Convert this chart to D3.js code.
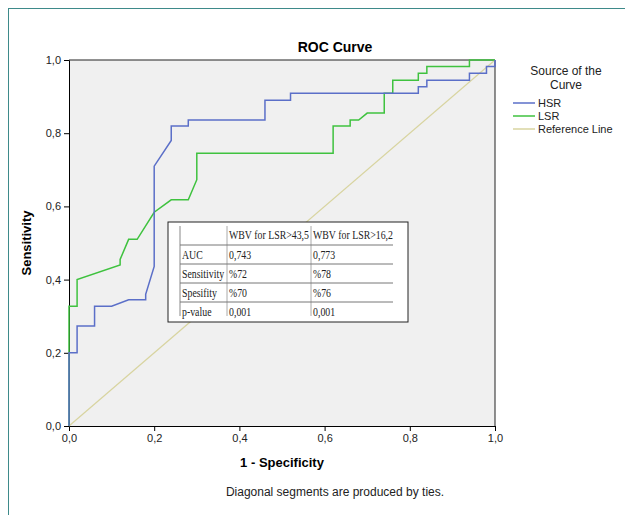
<!DOCTYPE html>
<html><head><meta charset="utf-8">
<script src="https://cdn.jsdelivr.net/npm/d3@7"></script>
<style>
body{margin:0;background:#fff;font-family:Arial,"Liberation Sans",sans-serif;}
</style></head>
<body><div id="chart"></div>
<script>
// ROC points [1-specificity, sensitivity]
let hsr = [[0,0],[0,0.2],[0.019,0.2],[0.019,0.273],[0.06,0.273],[0.06,0.327],[0.10,0.327],[0.14,0.345],[0.18,0.345],[0.18,0.36],[0.2,0.436],[0.2,0.71],[0.24,0.78],[0.24,0.82],[0.28,0.82],[0.28,0.836],[0.46,0.836],[0.46,0.89],[0.52,0.89],[0.52,0.909],[0.82,0.909],[0.82,0.927],[0.84,0.927],[0.84,0.945],[0.94,0.945],[0.94,0.964],[0.98,0.964],[0.98,0.982],[1,0.982],[1,1]];
let lsr = [[0,0],[0,0.327],[0.019,0.327],[0.019,0.4],[0.12,0.44],[0.12,0.455],[0.14,0.51],[0.16,0.51],[0.2,0.584],[0.24,0.618],[0.28,0.618],[0.3,0.673],[0.3,0.745],[0.62,0.745],[0.62,0.82],[0.66,0.82],[0.66,0.836],[0.68,0.836],[0.7,0.855],[0.74,0.855],[0.74,0.909],[0.76,0.909],[0.76,0.945],[0.82,0.945],[0.82,0.964],[0.84,0.964],[0.84,0.982],[0.94,0.982],[0.94,1],[1,1]];
let refLine = [[0,0],[1,1]];
let ticks = [0,0.2,0.4,0.6,0.8,1];
let tableHeader = ["","WBV for LSR>43,5","WBV for LSR>16,2"];
let tableRows = [["AUC","0,743","0,773"],["Sensitivity","%72","%78"],["Spesifity","%70","%76"],["p-value","0,001","0,001"]];
let legendItems = [["HSR","#5b6fc8"],["LSR","#3fc23f"],["Reference Line","#d8d4a0"]];

let svg = d3.select("#chart").append("svg").attr("width",625).attr("height",515);
svg.append("rect").attr("x",8.5).attr("y",8.5).attr("width",640).attr("height",520)
  .attr("fill","#fff").attr("stroke","#3e8a8a");

let x = d3.scaleLinear().domain([0,1]).range([69,495]);
let y = d3.scaleLinear().domain([0,1]).range([426,60]);
let fmt = d => d3.format(".1f")(d).replace(".",",");

svg.append("rect").attr("x",69).attr("y",60).attr("width",426).attr("height",366).attr("fill","#f0f0f0");
svg.append("g").attr("transform","translate(0,426)")
  .call(d3.axisBottom(x).tickValues(ticks).tickFormat(fmt).tickSize(5))
  .call(g=>g.selectAll("text").attr("font-size",11).attr("fill","#222"));
svg.append("g").attr("transform","translate(69,0)")
  .call(d3.axisLeft(y).tickValues(ticks).tickFormat(fmt).tickSize(5))
  .call(g=>g.selectAll("text").attr("font-size",11).attr("fill","#222"));
svg.append("line").attr("x1",495).attr("x2",495).attr("y1",60).attr("y2",426).attr("stroke","#222");
svg.append("line").attr("x1",69).attr("x2",495).attr("y1",60).attr("y2",60).attr("stroke","#222");

let line = d3.line().x(d=>x(d[0])).y(d=>y(d[1]));
svg.append("path").datum(refLine).attr("d",line).attr("fill","none").attr("stroke","#d8d4a0").attr("stroke-width",1.2);
svg.append("path").datum(lsr).attr("d",line).attr("fill","none").attr("stroke","#3fc23f").attr("stroke-width",1.5);
svg.append("path").datum(hsr).attr("d",line).attr("fill","none").attr("stroke","#5b6fc8").attr("stroke-width",1.5);

svg.append("text").attr("x",335).attr("y",52).attr("text-anchor","middle").attr("font-size",14).attr("font-weight","bold").text("ROC Curve");
svg.append("text").attr("x",282).attr("y",467).attr("text-anchor","middle").attr("font-size",13).attr("font-weight","bold").text("1 - Specificity");
svg.append("text").attr("transform","translate(31,243) rotate(-90)").attr("text-anchor","middle").attr("font-size",13).attr("font-weight","bold").text("Sensitivity");
svg.append("text").attr("x",335).attr("y",496).attr("text-anchor","middle").attr("font-size",12).attr("fill","#222").text("Diagonal segments are produced by ties.");

// legend
svg.append("text").attr("x",566).attr("y",75).attr("text-anchor","middle").attr("font-size",12).attr("fill","#222").text("Source of the");
svg.append("text").attr("x",566).attr("y",89).attr("text-anchor","middle").attr("font-size",12).attr("fill","#222").text("Curve");
let lg = svg.selectAll(".lg").data(legendItems).enter().append("g").attr("transform",(d,i)=>`translate(513,${103+i*13})`);
lg.append("line").attr("x1",0).attr("x2",22).attr("stroke",d=>d[1]).attr("stroke-width",1.5);
lg.append("text").attr("x",25).attr("y",4).attr("font-size",11).attr("fill","#222").text(d=>d[0]);

// table
let tb = svg.append("g").attr("transform","translate(168,222)");
tb.append("rect").attr("width",240).attr("height",100).attr("fill","#fff").attr("stroke","#222");
let colX = [12,59,143,225], rowY = [0,23,42,61,80,98];
tb.append("line").attr("x1",colX[0]).attr("x2",colX[0]).attr("y1",4).attr("y2",rowY[5]-4).attr("stroke","#888");
tb.append("line").attr("x1",colX[1]).attr("x2",colX[1]).attr("y1",4).attr("y2",rowY[5]-4).attr("stroke","#aaa");
tb.append("line").attr("x1",colX[2]).attr("x2",colX[2]).attr("y1",4).attr("y2",rowY[5]-4).attr("stroke","#aaa");
[1,2,3,4].forEach(i=>tb.append("line").attr("x1",colX[0]).attr("x2",colX[3]).attr("y1",rowY[i]).attr("y2",rowY[i]).attr("stroke","#777"));
let allRows = [tableHeader].concat(tableRows);
allRows.forEach((r,i)=>r.forEach((c,j)=>{
  let t = tb.append("text").attr("transform",`translate(${colX[j]+2},${rowY[i]+(i==0?17:14)}) scale(0.82,1)`)
    .attr("font-family","'Liberation Serif',serif").attr("font-size",12).attr("fill","#222").text(c);
}));
</script></body></html>
